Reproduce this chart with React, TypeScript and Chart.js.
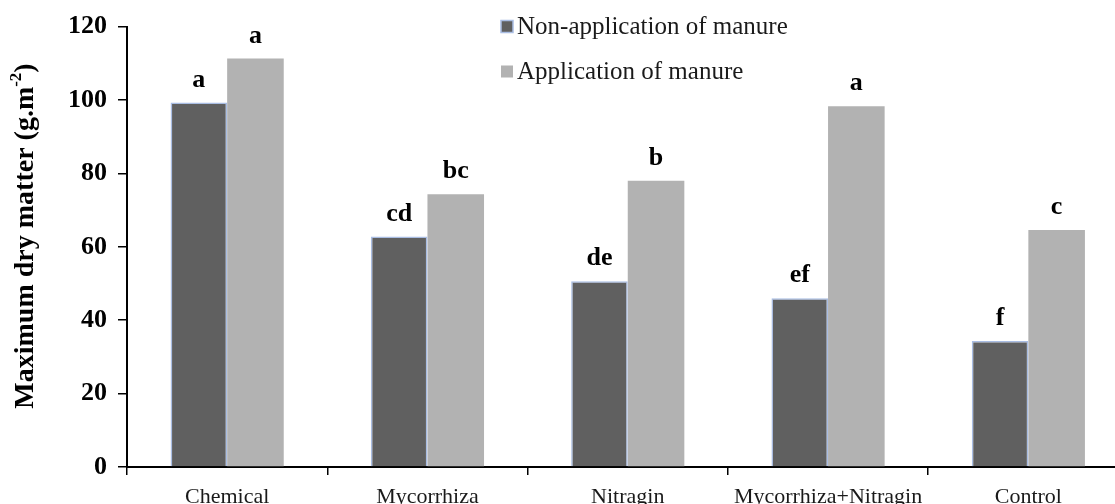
import { useEffect, useRef } from "react";
import { Chart, registerables } from "chart.js";
Chart.register(...registerables);

const categories = ["Chemical", "Mycorrhiza", "Nitragin", "Mycorrhiza+Nitragin", "Control"];
const seriesNames = ["Non-application of manure", "Application of manure"];
const nonManure = [99.3, 62.8, 50.6, 46.0, 34.3];
const manure = [111.3, 74.3, 78.0, 98.3, 64.6];
const nonManureLetters = ["a", "cd", "de", "ef", "f"];
const manureLetters = ["a", "bc", "b", "a", "c"];
const yMin = 0;
const yMax = 120;
const yStep = 20;
const yTitle = "Maximum dry matter (g.m";
const yTitleSup = "-2";
const yTitleEnd = ")";

const FONT = "'Liberation Serif', 'Times New Roman', serif";
const DARK = "#606060";
const LIGHT = "#b2b2b2";
const BORDER = "#a9bde3";

const W = 1140;
const H = 504;

const overlayPlugin = {
  id: "overlay",
  afterDatasetsDraw(chart: any) {
    const ctx = chart.ctx;
    ctx.save();
    // significance letters
    ctx.fillStyle = "#000";
    ctx.font = `bold 26px ${FONT}`;
    ctx.textAlign = "center";
    ctx.textBaseline = "alphabetic";
    const letterSets = [nonManureLetters, manureLetters];
    chart.data.datasets.forEach((_: any, di: number) => {
      const meta = chart.getDatasetMeta(di);
      meta.data.forEach((el: any, i: number) => {
        ctx.fillText(letterSets[di][i], el.x, el.y - 16);
      });
    });
    // legend
    const lx = 501;
    const rows = [26.5, 71.5];
    ctx.font = `25px ${FONT}`;
    ctx.textAlign = "left";
    ctx.textBaseline = "middle";
    seriesNames.forEach((name, i) => {
      const cy = rows[i];
      ctx.fillStyle = i === 0 ? DARK : LIGHT;
      ctx.fillRect(lx, cy - 6, 12, 12);
      if (i === 0) {
        ctx.strokeStyle = BORDER;
        ctx.lineWidth = 1.5;
        ctx.strokeRect(lx, cy - 6, 12, 12);
      }
      ctx.fillStyle = "#1a1a1a";
      ctx.fillText(name, lx + 16, cy + 1);
    });
    // y axis title with superscript
    ctx.translate(26, 236);
    ctx.rotate(-Math.PI / 2);
    ctx.fillStyle = "#000";
    ctx.textBaseline = "middle";
    const mainFont = `bold 28px ${FONT}`;
    const supFont = `bold 17px ${FONT}`;
    ctx.font = mainFont;
    const w1 = ctx.measureText(yTitle).width;
    const w3 = ctx.measureText(yTitleEnd).width;
    ctx.font = supFont;
    const w2 = ctx.measureText(yTitleSup).width;
    const total = w1 + w2 + w3;
    let x = -total / 2;
    ctx.font = mainFont;
    ctx.fillText(yTitle, x, 0);
    x += w1;
    ctx.font = supFont;
    ctx.fillText(yTitleSup, x, -9);
    x += w2;
    ctx.font = mainFont;
    ctx.fillText(yTitleEnd, x, 0);
    ctx.restore();
  },
};

export default function App() {
  const ref = useRef<HTMLCanvasElement | null>(null);
  useEffect(() => {
    if (!ref.current) return;
    const chart = new Chart(ref.current, {
      type: "bar",
      data: {
        labels: categories,
        datasets: [
          {
            label: seriesNames[0],
            data: nonManure,
            backgroundColor: DARK,
            borderColor: BORDER,
            borderWidth: 1.5,
            categoryPercentage: 0.565,
            barPercentage: 1,
          },
          {
            label: seriesNames[1],
            data: manure,
            backgroundColor: LIGHT,
            borderWidth: 0,
            categoryPercentage: 0.565,
            barPercentage: 1,
          },
        ],
      },
      options: {
        animation: false,
        responsive: false,
        maintainAspectRatio: false,
        layout: { padding: { left: 0, top: 25, right: W - 1128.5, bottom: 0 } },
        plugins: { legend: { display: false }, tooltip: { enabled: false } },
        scales: {
          x: {
            offset: true,
            grid: {
              offset: true,
              drawOnChartArea: false,
              drawTicks: true,
              tickLength: 8,
              color: "#000",
              lineWidth: 1.5,
            },
            border: { color: "#000", width: 2 },
            ticks: {
              color: "#1a1a1a",
              font: { family: FONT, size: 22 },
              padding: 9,
              maxRotation: 0,
              autoSkip: false,
            },
            afterFit: (s: any) => {
              s.height = 37;
            },
          },
          y: {
            min: yMin,
            max: yMax,
            ticks: {
              stepSize: yStep,
              color: "#000",
              font: { family: FONT, size: 26, weight: "bold" },
              padding: 11,
            },
            grid: {
              drawOnChartArea: false,
              drawTicks: true,
              tickLength: 9,
              color: "#000",
              lineWidth: 1.5,
            },
            border: { color: "#000", width: 2 },
            afterFit: (s: any) => {
              s.width = 127;
            },
          },
        },
      },
      plugins: [overlayPlugin],
    });
    return () => chart.destroy();
  }, []);
  return (
    <div
      style={{
        position: "fixed",
        left: 0,
        top: 0,
        width: 1115,
        height: 504,
        overflow: "hidden",
        background: "#fff",
      }}
    >
      <canvas ref={ref} width={W} height={H} style={{ width: W, height: H, display: "block" }} />
    </div>
  );
}
